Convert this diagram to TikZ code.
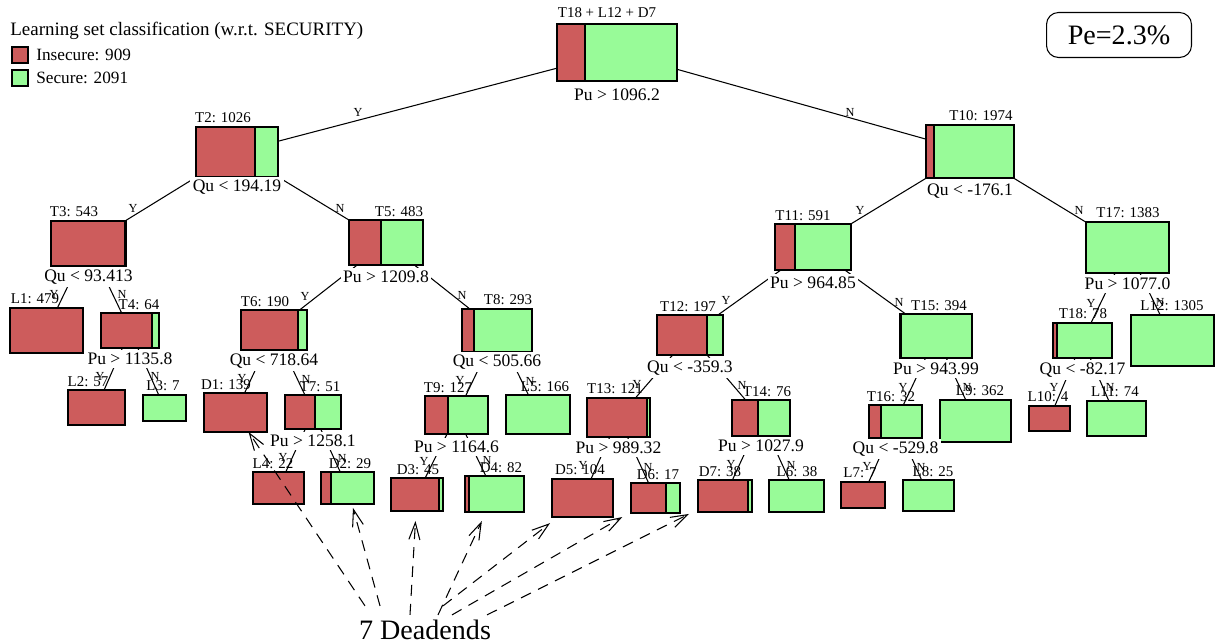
\documentclass[tikz,border=0pt]{standalone}
\usepackage{fontspec}
\setmainfont{Liberation Serif}
\usetikzlibrary{fit,calc,arrows.meta}
\definecolor{insecurered}{RGB}{205,92,92}
\definecolor{securegreen}{RGB}{152,251,152}
\tikzset{
  tbox/.style={fill=securegreen, inner sep=0pt, outer sep=0pt},
  redpart/.style={fill=insecurered, draw=black, line width=0.6pt},
  boxline/.style={draw=black, line width=1pt},
  cnt/.style={font=\fontsize{8.5}{10}\selectfont, inner sep=0pt},
  test/.style={font=\fontsize{10}{12}\selectfont, fill=white, inner sep=1.5pt},
  edge/.style={line width=0.6pt},
  yn/.style={font=\fontsize{7}{8}\selectfont, inner sep=0pt},
  deadend/.style={dash pattern=on 0.22cm off 0.16cm, line width=0.6pt,
    -{Straight Barb[length=0.34cm,width=0.22cm]}, shorten >=0.2cm},
}
% split box: name, corners, x where the insecure part ends
\newcommand{\tnode}[6]{%
  \node[tbox, fit={(#2,#3) (#4,#5)}] (#1) {};
  \filldraw[redpart] (#2,#3) rectangle (#6,#5);
  \draw[boxline] (#2,#3) rectangle (#4,#5);}
\begin{document}
\begin{tikzpicture}[x=0.02cm, y=-0.02cm]
\useasboundingbox (0,0) rectangle (1216,644);

% legend
\node[anchor=west, font=\fontsize{10.8}{12}\selectfont, inner sep=0pt] (title) at (10,31) {Learning set classification (w.r.t. SECURITY)};
\node[redpart, minimum size=0.32cm, inner sep=0pt] (insbox) at (20,55) {};
\node[fill=securegreen, draw=black, line width=0.6pt, minimum size=0.32cm, inner sep=0pt] (secbox) at (20,78) {};
\node[anchor=west, font=\fontsize{9.8}{11}\selectfont, inner sep=0pt] (ins) at (36,55) {Insecure: 909};
\node[anchor=west, font=\fontsize{9.8}{11}\selectfont, inner sep=0pt] (sec) at (36,78) {Secure: 2091};
\node[draw, line width=0.6pt, rounded corners=0.24cm, minimum width=2.9cm, minimum height=0.9cm, font=\fontsize{16}{18}\selectfont] (pe) at (1119,35) {Pe=2.3\%};

% boxes
\tnode{root}{557}{24}{677}{81}{585}
\tnode{T2}{196}{127}{278}{177}{255}
\tnode{T10}{926}{125}{1014}{178}{934}
\tnode{T3}{51}{221}{126}{266}{125}
\tnode{T5}{349}{220}{423}{265}{381}
\tnode{L1}{10}{308}{83}{353}{83}
\tnode{T4}{101}{313}{159}{348}{152}
\tnode{L2}{68}{390}{125}{425}{125}
\tnode{L3}{143}{395}{186}{421}{143}
\tnode{T6}{241}{310}{307}{350}{298}
\tnode{T8}{462}{309}{532}{352}{474}
\tnode{D1}{204}{393}{267}{432}{267}
\tnode{T7}{285}{395}{341}{429}{315}
\tnode{L4}{253}{472}{304}{504}{304}
\tnode{D2}{321}{472}{374}{504}{331}
\tnode{T9}{425}{396}{488}{434}{448}
\tnode{L5}{506}{395}{570}{434}{506}
\tnode{D3}{391}{478}{443}{511}{439}
\tnode{D4}{465}{476}{524}{512}{469}
\tnode{T11}{775}{224}{851}{270}{795}
\tnode{T17}{1086}{222}{1169}{273}{1086}
\tnode{T12}{657}{315}{723}{355}{707}
\tnode{T15}{900}{314}{972}{358}{901}
\tnode{T13}{587}{398}{650}{437}{647}
\tnode{T14}{732}{400}{790}{436}{758}
\tnode{D5}{552}{479}{613}{517}{613}
\tnode{D6}{631}{483}{680}{513}{666}
\tnode{D7}{698}{480}{752}{512}{748}
\tnode{L6}{769}{480}{824}{512}{769}
\tnode{T16}{869}{405}{922}{438}{881}
\tnode{L9}{940}{400}{1011}{442}{940}
\tnode{L7}{841}{482}{885}{508}{885}
\tnode{L8}{903}{480}{954}{511}{903}
\tnode{T18}{1053}{323}{1112}{358}{1057}
\tnode{L12}{1131}{315}{1214}{366}{1131}
\tnode{L10}{1029}{406}{1070}{431}{1070}
\tnode{L11}{1087}{401}{1146}{436}{1087}

% branches
\draw[edge] (root) -- (T2) (358,112) node[yn] {Y};
\draw[edge] (root) -- (T10) (850,112) node[yn] {N};
\draw[edge] (T2) -- (T3) (133,208) node[yn] {Y};
\draw[edge] (T2) -- (T5) (340,208) node[yn] {N};
\draw[edge] (T3) -- (L1) (54,294) node[yn] {Y};
\draw[edge] (T3) -- (T4) (122,294) node[yn] {N};
\draw[edge] (T4) -- (L2) (100,376) node[yn] {Y};
\draw[edge] (T4) -- (L3) (155,376) node[yn] {N};
\draw[edge] (T5) -- (T6) (305,296) node[yn] {Y};
\draw[edge] (T5) -- (T8) (462,295) node[yn] {N};
\draw[edge] (T6) -- (D1) (242,378) node[yn] {Y};
\draw[edge] (T6) -- (T7) (306,379) node[yn] {N};
\draw[edge] (T7) -- (L4) (283,457) node[yn] {Y};
\draw[edge] (T7) -- (D2) (342,458) node[yn] {N};
\draw[edge] (T8) -- (T9) (460,380) node[yn] {Y};
\draw[edge] (T8) -- (L5) (530,381) node[yn] {N};
\draw[edge] (T9) -- (D3) (424,461) node[yn] {Y};
\draw[edge] (T9) -- (D4) (487,460) node[yn] {N};
\draw[edge] (T10) -- (T11) (860,210) node[yn] {Y};
\draw[edge] (T10) -- (T17) (1079,210) node[yn] {N};
\draw[edge] (T11) -- (T12) (726,300) node[yn] {Y};
\draw[edge] (T11) -- (T15) (899,302) node[yn] {N};
\draw[edge] (T12) -- (T13) (637,384) node[yn] {Y};
\draw[edge] (T12) -- (T14) (742,385) node[yn] {N};
\draw[edge] (T13) -- (D5) (583,465) node[yn] {Y};
\draw[edge] (T13) -- (D6) (648,467) node[yn] {N};
\draw[edge] (T14) -- (D7) (731,464) node[yn] {Y};
\draw[edge] (T14) -- (L6) (791,465) node[yn] {N};
\draw[edge] (T15) -- (T16) (903,387) node[yn] {Y};
\draw[edge] (T15) -- (L9) (967,387) node[yn] {N};
\draw[edge] (T16) -- (L7) (867,466) node[yn] {Y};
\draw[edge] (T16) -- (L8) (921,467) node[yn] {N};
\draw[edge] (T17) -- (T18) (1091,303) node[yn] {Y};
\draw[edge] (T17) -- (L12) (1160,302) node[yn] {N};
\draw[edge] (T18) -- (L10) (1054,387) node[yn] {Y};
\draw[edge] (T18) -- (L11) (1110,387) node[yn] {N};

% tests under the boxes
\node[test] (root-t) at (617,95) {Pu > 1096.2};
\node[test] (T2-t) at (237,187) {Qu < 194.19};
\node[test] (T10-t) at (970,191) {Qu < -176.1};
\node[test] (T3-t) at (88.5,277) {Qu < 93.413};
\node[test] (T5-t) at (386,277) {Pu > 1209.8};
\node[test] (T4-t) at (130,359) {Pu > 1135.8};
\node[test] (T6-t) at (274,361) {Qu < 718.64};
\node[test] (T8-t) at (497,362) {Qu < 505.66};
\node[test] (T7-t) at (313,441) {Pu > 1258.1};
\node[test] (T9-t) at (456.5,447) {Pu > 1164.6};
\node[test] (T11-t) at (813,283) {Pu > 964.85};
\node[test] (T17-t) at (1127.5,284) {Pu > 1077.0};
\node[test] (T12-t) at (690,368) {Qu < -359.3};
\node[test] (T15-t) at (936,369) {Pu > 943.99};
\node[test] (T13-t) at (618.5,448) {Pu > 989.32};
\node[test] (T14-t) at (761,446) {Pu > 1027.9};
\node[test] (T16-t) at (895.5,449) {Qu < -529.8};
\node[test] (T18-t) at (1082.5,370) {Qu < -82.17};

% counts above the boxes
\node[cnt] (root-c) at (607,13) {T18 + L12 + D7};
\node[cnt] (T2-c) at (223,118) {T2: 1026};
\node[cnt] (T10-c) at (981,116) {T10: 1974};
\node[cnt] (T3-c) at (74,212) {T3: 543};
\node[cnt] (T5-c) at (399,212) {T5: 483};
\node[cnt] (L1-c) at (35,299) {L1: 479};
\node[cnt] (T4-c) at (139,305) {T4: 64};
\node[cnt] (L2-c) at (88,382) {L2: 57};
\node[cnt] (L3-c) at (163,386) {L3: 7};
\node[cnt] (T6-c) at (265,302) {T6: 190};
\node[cnt] (T8-c) at (508,300) {T8: 293};
\node[cnt] (D1-c) at (226,385) {D1: 139};
\node[cnt] (T7-c) at (320,387) {T7: 51};
\node[cnt] (L4-c) at (273,464) {L4: 22};
\node[cnt] (D2-c) at (350,464) {D2: 29};
\node[cnt] (T9-c) at (448,388) {T9: 127};
\node[cnt] (L5-c) at (545,387) {L5: 166};
\node[cnt] (D3-c) at (418,470) {D3: 45};
\node[cnt] (D4-c) at (501,468) {D4: 82};
\node[cnt] (T11-c) at (803,216) {T11: 591};
\node[cnt] (T17-c) at (1128,213) {T17: 1383};
\node[cnt] (T12-c) at (688,307) {T12: 197};
\node[cnt] (T15-c) at (939,306) {T15: 394};
\node[cnt] (T13-c) at (615,389) {T13: 121};
\node[cnt] (T14-c) at (767,392) {T14: 76};
\node[cnt] (D5-c) at (580,470) {D5: 104};
\node[cnt] (D6-c) at (658,475) {D6: 17};
\node[cnt] (D7-c) at (720,472) {D7: 38};
\node[cnt] (L6-c) at (797,472) {L6: 38};
\node[cnt] (T16-c) at (891,397) {T16: 32};
\node[cnt] (L9-c) at (980,391) {L9: 362};
\node[cnt] (L7-c) at (860,473) {L7: 7};
\node[cnt] (L8-c) at (933,472) {L8: 25};
\node[cnt] (T18-c) at (1083,314) {T18: 78};
\node[cnt] (L12-c) at (1172,306) {L12: 1305};
\node[cnt] (L10-c) at (1048,397) {L10: 4};
\node[cnt] (L11-c) at (1115,392) {L11: 74};

% deadends
\node[font=\fontsize{16}{18}\selectfont] (dead) at (425,630) {7 Deadends};
\draw[deadend, shorten >=0pt] ($(dead.north)+(-60,-8)$) -- (D1);
\draw[deadend, shorten >=0.08cm] ($(dead.north)+(-45,-8)$) -- (D2);
\draw[deadend] ($(dead.north)+(-15,1)$) -- (D3);
\draw[deadend] ($(dead.north)+(13,1)$) -- (D4);
\draw[deadend] ($(dead.north)+(18,-8)$) -- (D5);
\draw[deadend] ($(dead.north)+(27,1)$) -- (D6);
\draw[deadend] ($(dead.north)+(62,1)$) -- (D7);
\end{tikzpicture}
\end{document}
